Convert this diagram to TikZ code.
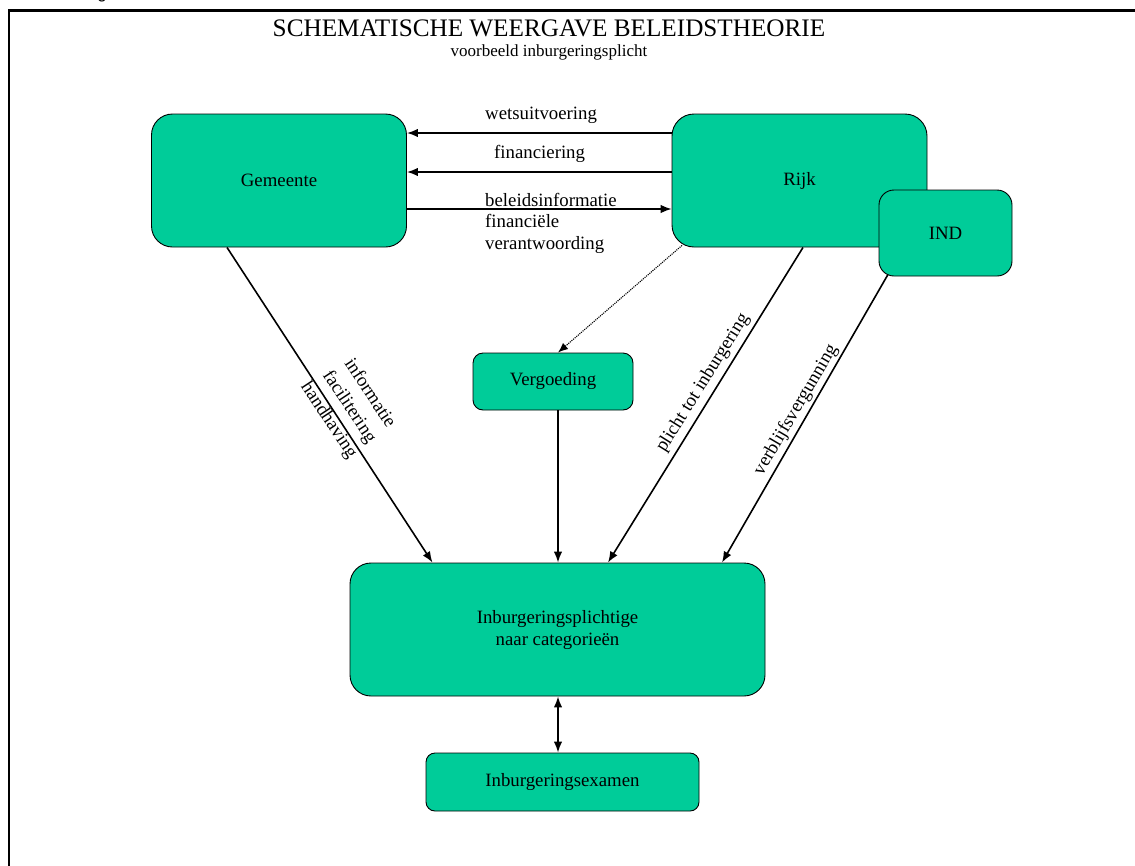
\documentclass[tikz,border=0pt]{standalone}
\usepackage{fontspec}
\setmainfont{Liberation Serif}
\setsansfont{Liberation Sans}
\usetikzlibrary{arrows.meta}
\definecolor{boxgreen}{RGB}{0,204,153}
\begin{document}
\begin{tikzpicture}[x=1pt,y=-1pt,
  box/.style={draw=black, line width=0.9pt, fill=boxgreen, rounded corners=#1, inner sep=0pt,
    font=\fontsize{18.8}{22}\selectfont, align=center},
  box/.default=20pt,
  arr/.style={line width=1.6pt, -{Latex[length=11pt,width=8.5pt]}},
  lbl/.style={font=\fontsize{18.8}{24.5}\selectfont, inner sep=0pt, align=center},
]
\useasboundingbox (0,0) rectangle (1135,865);
\begin{scope}
\clip (0,0) rectangle (1135,865);
\node[anchor=base, inner sep=0pt, font=\sffamily\fontsize{17}{20}\selectfont] (cut) at (102,-1.5) {g};
\end{scope}
\draw[line width=2.6pt] (9,866) -- (9,10.3) -- (1136,10.3);

\node[inner sep=0pt, font=\fontsize{25.2}{28}\selectfont] (title) at (549,28) {SCHEMATISCHE WEERGAVE BELEIDSTHEORIE};
\node[inner sep=0pt, font=\fontsize{17}{20}\selectfont] (sub) at (549,52.5) {voorbeeld inburgeringsplicht};

\node[box=21pt, minimum width=255pt, minimum height=133pt] (gem) at (279,180.5) {Gemeente};
\node[box=22pt, minimum width=255pt, minimum height=133pt] (rijk) at (799.5,180.5) {Rijk};
\node[box=15pt, minimum width=133pt, minimum height=86pt] (ind) at (945.5,233) {IND};
\node[box=10pt, minimum width=160pt, minimum height=57pt] (verg) at (553,381.5) {Vergoeding};
\node[box=21pt, minimum width=415pt, minimum height=133pt] (inb) at (557.5,629.5) {Inburgeringsplichtige\\naar categorie\"en};
\node[box=9pt, minimum width=273pt, minimum height=58pt] (exam) at (562.5,782) {Inburgeringsexamen};

\coordinate (ya) at (0,133);
\coordinate (yb) at (0,172);
\coordinate (yc) at (0,209);
\draw[arr] (rijk.west |- ya) -- (gem.east |- ya);
\draw[arr] (rijk.west |- yb) -- (gem.east |- yb);
\draw[arr, line width=1.3pt] (gem.east |- yc) -- (rijk.west |- yc);
\node[lbl, anchor=west] (lw) at (485,115) {wetsuitvoering};
\node[lbl, anchor=west] (lf) at (494,154) {financiering};
\node[lbl, anchor=north west, align=left, font=\fontsize{18.8}{21.5}\selectfont] (lb) at (485,193) {beleidsinformatie\\financi\"ele\\verantwoording};

\draw[line width=1.1pt, densely dotted, -{Latex[length=10pt,width=8pt]}] ([shift={(-117.5pt,2pt)}]rijk.south) -- ([xshift=5pt]verg.north);
\draw[arr] ([xshift=-52pt]gem.south) -- ([xshift=-125pt]inb.north);
\draw[arr] ([xshift=5pt]verg.south) -- ([xshift=5pt]verg.south |- inb.north);
\draw[arr] ([xshift=3.5pt]rijk.south) -- ([xshift=50.5pt]inb.north);
\draw[arr] ([shift={(-57.5pt,2pt)}]ind.south) -- ([xshift=164.5pt]inb.north);
\draw[line width=1.6pt, {Latex[length=11pt,width=8.5pt]}-{Latex[length=11pt,width=8.5pt]}] ([xshift=0.5pt]inb.south) -- ([xshift=0.5pt]inb.south |- exam.north);

\node[lbl, rotate=-56.6] (lg) at (349,407) {informatie\\facilitering\\handhaving};
\node[lbl, rotate=58] (lp) at (703,383) {plicht tot inburgering};
\node[lbl, rotate=59.5] (lv) at (796,410) {verblijfsvergunning};
\end{tikzpicture}
\end{document}
